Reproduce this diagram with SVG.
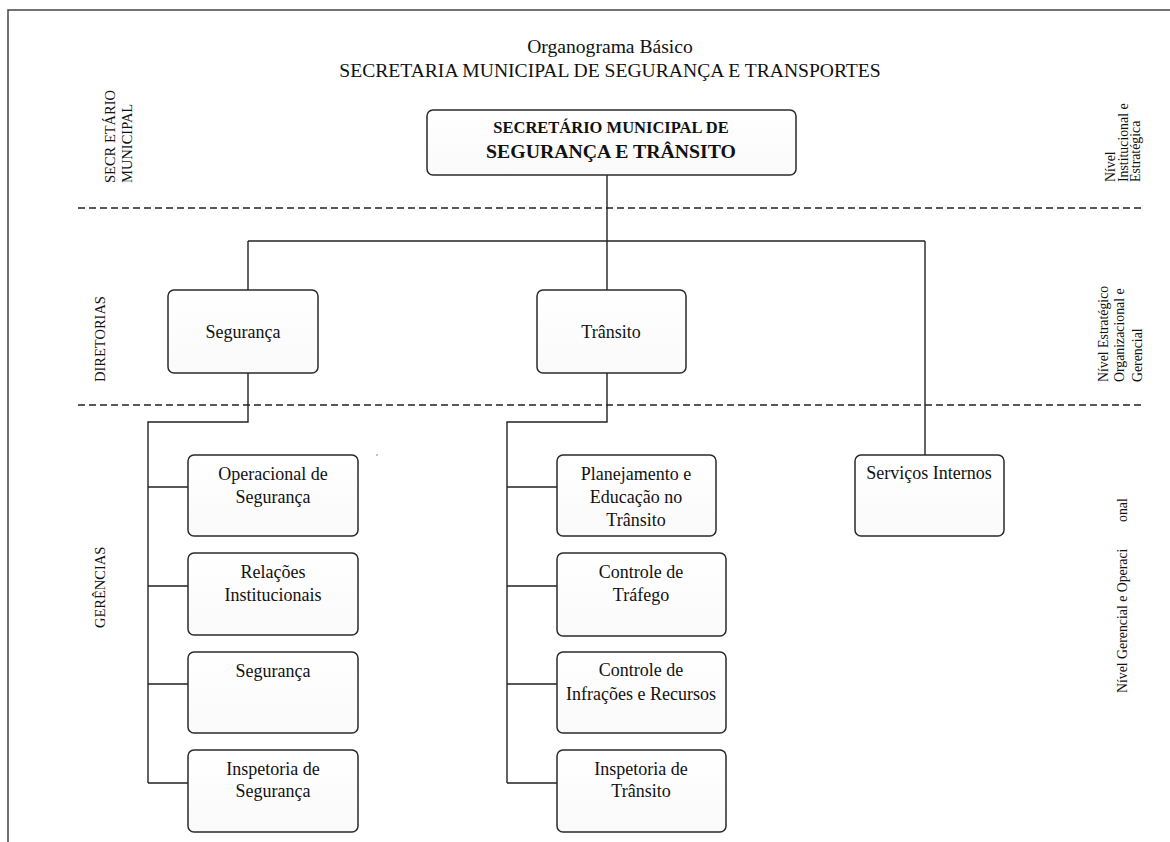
<svg xmlns="http://www.w3.org/2000/svg" width="1170" height="842" viewBox="0 0 1170 842">
  <style>
    text { font-family: "Liberation Serif", "Times New Roman", serif; fill: #111; }
    .title { font-size: 19.6px; text-anchor: middle; }
    .box { fill: url(#boxFill); stroke: #2a2a2a; stroke-width: 1.5; }
    .lbl { font-size: 18px; text-anchor: middle; }
    .side { font-size: 14.5px; }
    .lvl { font-size: 13.8px; }
    .conn { fill: none; stroke: #222; stroke-width: 1.4; }
    .dash { fill: none; stroke: #222; stroke-width: 1.3; stroke-dasharray: 7 4; }
    .frame { fill: none; stroke: #444; stroke-width: 1.5; }
  </style>
  <defs>
    <linearGradient id="boxFill" x1="0" y1="0" x2="0" y2="1">
      <stop offset="0" stop-color="#ffffff"/>
      <stop offset="1" stop-color="#fafafa"/>
    </linearGradient>
  </defs>

  <rect width="1170" height="842" fill="#ffffff"/>
  <!-- page frame (top and left edges) -->
  <path class="frame" d="M8,842 V10 H1170"/>

  <!-- heading -->
  <text class="title" x="610" y="53">Organograma Básico</text>
  <text class="title" x="610" y="77">SECRETARIA MUNICIPAL DE SEGURANÇA E TRANSPORTES</text>

  <!-- level separators -->
  <path class="dash" d="M78,208 H1145"/>
  <path class="dash" d="M78,405 H1145"/>

  <!-- left band labels -->
  <g id="band-secretario">
    <text class="side" transform="translate(115,183) rotate(-90)">SECR ETÁRIO</text>
    <text class="side" transform="translate(132,183) rotate(-90)">MUNICIPAL</text>
  </g>
  <g id="band-diretorias">
    <text class="side" transform="translate(105,382) rotate(-90)">DIRETORIAS</text>
  </g>
  <g id="band-gerencias">
    <text class="side" transform="translate(105,628) rotate(-90)">GERÊNCIAS</text>
  </g>

  <!-- right level labels -->
  <g id="level-1">
    <text class="lvl" transform="translate(1115,182) rotate(-90)">Nível</text>
    <text class="lvl" transform="translate(1128,182) rotate(-90)">Institucional e</text>
    <text class="lvl" transform="translate(1140,182) rotate(-90)">Estratégica</text>
  </g>
  <g id="level-2">
    <text class="lvl" transform="translate(1108,382) rotate(-90)">Nível Estratégico</text>
    <text class="lvl" transform="translate(1124,382) rotate(-90)">Organizacional e</text>
    <text class="lvl" transform="translate(1142,382) rotate(-90)">Gerencial</text>
  </g>
  <g id="level-3">
    <text class="lvl" transform="translate(1127,693) rotate(-90)">Nível Gerencial e Operaci</text>
    <text class="lvl" transform="translate(1127,522) rotate(-90)">onal</text>
  </g>

  <!-- connectors -->
  <g id="connectors">
    <path class="conn" d="M607,175 V290"/>
    <path class="conn" d="M248,241 H925"/>
    <path class="conn" d="M248,241 V290"/>
    <path class="conn" d="M925,241 V455"/>
    <path class="conn" d="M248,373 V422 H148 V783"/>
    <path class="conn" d="M148,487 H188 M148,586 H188 M148,684 H188 M148,783 H188"/>
    <path class="conn" d="M607,373 V422 H507 V783"/>
    <path class="conn" d="M507,487 H557 M507,586 H557 M507,684 H557 M507,783 H557"/>
  </g>

  <!-- secretary -->
  <g id="secretario">
    <rect class="box" x="427" y="110" width="369" height="65" rx="6"/>
    <text x="611" y="133" text-anchor="middle" font-weight="bold" font-size="16.5">SECRETÁRIO MUNICIPAL DE</text>
    <text x="611" y="158" text-anchor="middle" font-weight="bold" font-size="19.8">SEGURANÇA E TRÂNSITO</text>
  </g>

  <!-- directorates -->
  <g id="dir-seguranca">
    <rect class="box" x="168" y="290" width="150" height="83" rx="6"/>
    <text class="lbl" x="243" y="338">Segurança</text>
  </g>
  <g id="dir-transito">
    <rect class="box" x="537" y="290" width="149" height="83" rx="6"/>
    <text class="lbl" x="611" y="338">Trânsito</text>
  </g>
  <g id="servicos-internos">
    <rect class="box" x="855" y="455" width="149" height="81" rx="6"/>
    <text class="lbl" x="929" y="479">Serviços Internos</text>
  </g>

  <!-- security managements -->
  <g id="ger-operacional">
    <rect class="box" x="188" y="455" width="170" height="81" rx="6"/>
    <text class="lbl" x="273" y="480">Operacional de</text>
    <text class="lbl" x="273" y="503">Segurança</text>
  </g>
  <g id="ger-relacoes">
    <rect class="box" x="188" y="553" width="170" height="82" rx="6"/>
    <text class="lbl" x="273" y="578">Relações</text>
    <text class="lbl" x="273" y="601">Institucionais</text>
  </g>
  <g id="ger-seguranca">
    <rect class="box" x="188" y="652" width="170" height="81" rx="6"/>
    <text class="lbl" x="273" y="677">Segurança</text>
  </g>
  <g id="ger-inspetoria-seg">
    <rect class="box" x="188" y="750" width="170" height="82" rx="6"/>
    <text class="lbl" x="273" y="775">Inspetoria de</text>
    <text class="lbl" x="273" y="797">Segurança</text>
  </g>

  <!-- traffic managements -->
  <g id="ger-planejamento">
    <rect class="box" x="557" y="455" width="159" height="81" rx="6"/>
    <text class="lbl" x="636" y="480">Planejamento e</text>
    <text class="lbl" x="636" y="503">Educação no</text>
    <text class="lbl" x="636" y="526">Trânsito</text>
  </g>
  <g id="ger-trafego">
    <rect class="box" x="557" y="553" width="169" height="83" rx="6"/>
    <text class="lbl" x="641" y="578">Controle de</text>
    <text class="lbl" x="641" y="601">Tráfego</text>
  </g>
  <g id="ger-infracoes">
    <rect class="box" x="557" y="652" width="169" height="81" rx="6"/>
    <text class="lbl" x="641" y="676">Controle de</text>
    <text class="lbl" x="641" y="700">Infrações e Recursos</text>
  </g>
  <g id="ger-inspetoria-tra">
    <rect class="box" x="557" y="750" width="169" height="82" rx="6"/>
    <text class="lbl" x="641" y="775">Inspetoria de</text>
    <text class="lbl" x="641" y="797">Trânsito</text>
  </g>

  <!-- stray ink mark -->
  <circle cx="377" cy="455" r="0.7" fill="#555"/>
</svg>
